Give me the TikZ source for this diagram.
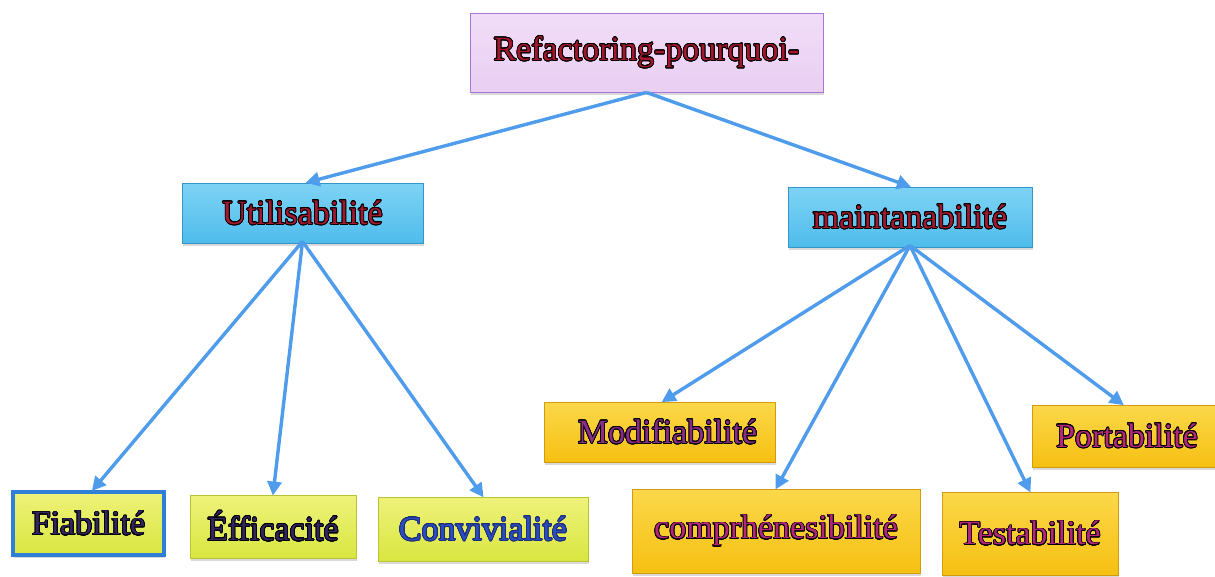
\documentclass[tikz,border=0pt]{standalone}
\usepackage{fontspec}
\setmainfont{Liberation Serif}
\usepackage{contour}
\contourlength{0.75pt}
\contournumber{24}
\usetikzlibrary{arrows.meta,shadows}

\definecolor{lavfill}{HTML}{E9CFF3}
\definecolor{lavtop}{HTML}{F1DDF7}
\definecolor{lavedge}{HTML}{A877D6}
\definecolor{skyfill}{HTML}{4FBCEB}
\definecolor{skytop}{HTML}{7ED3F5}
\definecolor{skyedge}{HTML}{3496C8}
\definecolor{limefill}{HTML}{D9E640}
\definecolor{limetop}{HTML}{EEF27A}
\definecolor{limeedge}{HTML}{B8C436}
\definecolor{goldfill}{HTML}{F6C012}
\definecolor{goldtop}{HTML}{FBD84A}
\definecolor{goldedge}{HTML}{D29A10}
\definecolor{linkblue}{HTML}{4E9CEB}
\definecolor{framblue}{HTML}{2F7ED8}
\definecolor{txtred}{HTML}{A3182E}
\definecolor{txtnavy}{HTML}{33265E}
\definecolor{txtblue}{HTML}{2C4CC2}
\definecolor{txtplum}{HTML}{8A2C88}
\definecolor{txtmag}{HTML}{B3277C}

% outlined label: coloured letters with a thin black rim
\newcommand{\olabel}[2]{{\color{#1}\contour{black}{#2}}}

\tikzset{
  card/.style n args={3}{rectangle, draw=#3, line width=0.9pt,
    top color=#1, bottom color=#2,
    drop shadow={shadow xshift=1pt, shadow yshift=-3pt, opacity=0.25, fill=black!60},
    inner sep=0pt, font=\fontsize{34}{40}\selectfont},
  rootcard/.style={card={lavtop}{lavfill}{lavedge}},
  skycard/.style={card={skytop}{skyfill}{skyedge}},
  limecard/.style={card={limetop}{limefill}{limeedge}},
  goldcard/.style={card={goldtop}{goldfill}{goldedge}},
  link/.style={draw=linkblue, line width=3.4pt,
    -{Triangle[length=14pt,width=14pt]}, shorten >=-1pt},
}

\begin{document}
\begin{tikzpicture}[x=1pt, y=-1pt]
  \useasboundingbox (0,0) rectangle (1215,576);

  % top level
  \node[rootcard, minimum width=353pt, minimum height=79pt] (root) at (646.5,52.5)
    {\olabel{txtred}{Refactoring-pourquoi-}};

  % second level
  \node[skycard, minimum width=241pt, minimum height=60pt] (util) at (302.5,213)
    {\olabel{txtred}{Utilisabilité}};
  \node[skycard, minimum width=244pt, minimum height=60pt] (maint) at (910,217)
    {\olabel{txtred}{maintanabilité}};

  % usability branch
  \node[limecard, draw=framblue, line width=3.5pt, minimum width=151pt, minimum height=63pt] (fiab) at (88.5,523.5)
    {\olabel{txtnavy}{Fiabilité}};
  \node[limecard, minimum width=166pt, minimum height=63pt] (effic) at (273,526.5)
    {\olabel{txtnavy}{Éfficacité}};
  \node[limecard, minimum width=210pt, minimum height=64pt] (conv) at (483,529)
    {{\color{txtblue}\contour{txtblue!60!black}{Convivialité}}};

  % maintainability branch
  \node[goldcard, minimum width=231pt, minimum height=60pt] (modif) at (659.5,432)
    {\hspace*{16pt}\olabel{txtplum}{Modifiabilité}};
  \node[goldcard, minimum width=190pt, minimum height=62pt] (port) at (1127,436)
    {\olabel{txtmag}{Portabilité}};
  \node[goldcard, minimum width=288pt, minimum height=84pt] (compr) at (776,531)
    {\olabel{txtmag}{comprhénesibilité}};
  \node[goldcard, minimum width=176pt, minimum height=83pt] (test) at (1030,533.5)
    {\olabel{txtmag}{Testabilité}};

  % connectors
  \draw[link] (root.south) -- ([xshift=4pt]util.north);
  \draw[link] (root.south) -- (maint.north);
  \draw[link] ([yshift=2pt]util.south) -- ([xshift=4pt]fiab.north);
  \draw[link] ([yshift=2pt]util.south) -- (effic.north);
  \draw[link] ([yshift=2pt]util.south) -- (conv.north);
  \draw[link] ([yshift=2pt]maint.south) -- ([xshift=3pt]modif.north);
  \draw[link] ([yshift=2pt]maint.south) -- (compr.north);
  \draw[link] ([yshift=2pt]maint.south) -- (test.north);
  \draw[link] ([yshift=2pt]maint.south) -- ([xshift=-4pt]port.north);
\end{tikzpicture}
\end{document}
